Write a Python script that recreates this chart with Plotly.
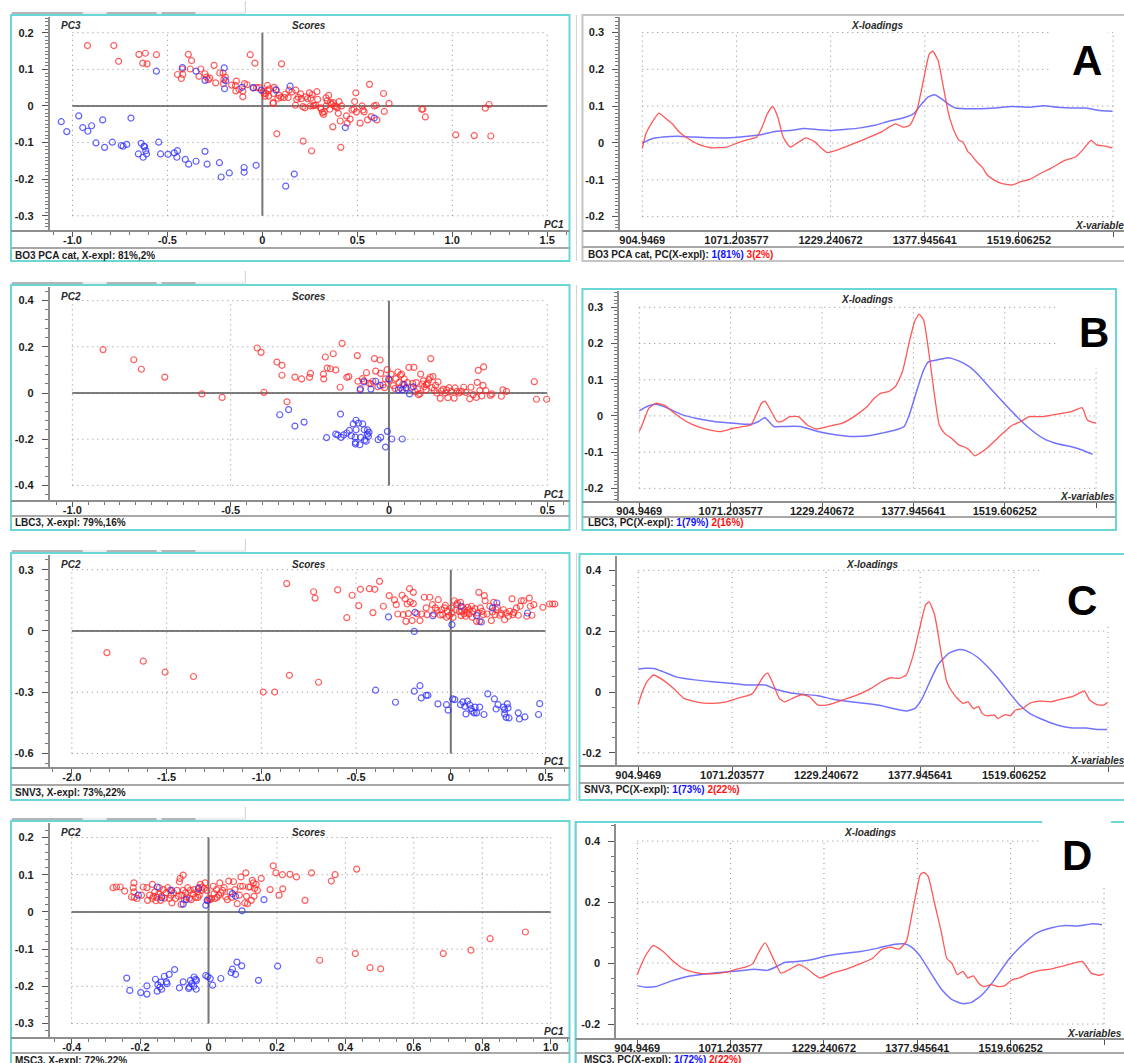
import plotly.graph_objects as go

W, H = 1124, 1063

# ====================== DATA ======================
# Scores (PC-x, PC-y) pairs: red = class 1, blue = class 2
A_RED = [(-0.921,0.165),(-0.782,0.165),(-0.757,0.122),(-0.650,0.141),(-0.616,0.144),(-0.630,0.117),(-0.607,0.115),(-0.558,0.140),(-0.447,0.086),(-0.419,0.086),
         (-0.427,0.075),(-0.421,0.101),(-0.390,0.141),(-0.373,0.124),(-0.380,0.101),(-0.334,0.081),(-0.324,0.101),(-0.302,0.088),(-0.294,0.079),(-0.285,0.072),
         (-0.277,0.076),(-0.254,0.111),(-0.246,0.063),(-0.224,0.090),(-0.207,0.090),(-0.203,0.072),(-0.195,0.079),(-0.205,0.061),(-0.162,0.057),(-0.142,0.056),
         (-0.137,0.068),(-0.140,0.041),(-0.123,0.045),(-0.103,0.040),(-0.103,0.025),(-0.094,0.061),(-0.080,0.058),(-0.064,0.140),(-0.039,0.117),(-0.049,0.049),
         (-0.031,0.050),(-0.016,0.050),(0.004,0.040),(0.018,0.034),(0.014,0.027),(0.029,0.043),(0.037,0.047),(0.027,0.056),(0.062,0.051),(0.072,0.045),
         (0.059,0.034),(0.057,0.009),(0.057,0.007),(0.088,0.029),(0.101,0.115),(0.098,0.023),(0.115,0.023),(0.121,0.032),(0.136,0.023),(0.140,0.043),
         (0.076,-0.076),(0.176,0.043),(0.181,0.018),(0.189,0.024),(0.174,0.002),(0.201,0.033),(0.205,0.020),(0.213,-0.002),(0.224,-0.005),(0.228,0.025),
         (0.238,0.020),(0.248,0.036),(0.252,0.000),(0.255,0.021),(0.263,0.031),(0.267,0.000),(0.281,0.002),(0.273,0.002),(0.287,0.039),(0.291,0.018),
         (0.306,-0.005),(0.316,-0.018),(0.322,-0.023),(0.326,-0.016),(0.335,0.000),(0.335,0.022),(0.341,0.014),(0.349,0.029),(0.355,-0.009),(0.359,0.009),
         (0.365,0.005),(0.374,0.009),(0.371,-0.057),(0.388,-0.002),(0.394,-0.005),(0.400,-0.020),(0.404,0.012),(0.410,-0.041),(0.413,-0.113),(0.417,0.000),
         (0.443,-0.027),(0.447,-0.047),(0.462,-0.036),(0.472,-0.011),(0.482,-0.009),(0.486,0.012),(0.492,0.036),(0.495,-0.016),(0.515,-0.047),(0.525,0.000),
         (0.530,-0.011),(0.536,-0.016),(0.554,-0.038),(0.564,0.059),(0.573,-0.029),(0.589,0.000),(0.599,0.002),(0.603,-0.038),(0.638,0.034),(0.642,-0.015),
         (0.667,0.007),(0.839,-0.009),(0.845,-0.009),(0.858,-0.030),(1.018,-0.079),(1.116,-0.081),(1.174,-0.006),(1.194,0.004),(1.203,-0.082),(0.215,-0.096),
         (0.259,-0.123),(0.010,0.034),(0.033,0.027),(0.082,0.021),(0.156,0.038),(0.310,-0.009),(0.380,0.000)]
A_BLUE = [(-1.059,-0.043),(-1.030,-0.070),(-0.967,-0.027),(-0.946,-0.059),(-0.919,-0.069),(-0.899,-0.054),(-0.876,-0.101),(-0.841,-0.038),(-0.831,-0.113),(-0.790,-0.099),
          (-0.743,-0.108),(-0.733,-0.110),(-0.714,-0.105),(-0.692,-0.033),(-0.653,-0.131),(-0.638,-0.102),(-0.628,-0.140),(-0.620,-0.111),(-0.614,-0.122),(-0.610,-0.131),
          (-0.624,-0.110),(-0.558,0.095),(-0.546,-0.099),(-0.536,-0.131),(-0.497,-0.132),(-0.464,-0.128),(-0.450,-0.140),(-0.447,-0.122),(-0.406,-0.146),(-0.388,-0.159),
          (-0.421,0.105),(-0.349,-0.151),(-0.349,0.095),(-0.302,0.070),(-0.302,-0.124),(-0.291,-0.159),(-0.226,-0.155),(-0.217,-0.194),(-0.201,0.104),(-0.199,0.047),
          (-0.193,0.069),(-0.174,-0.183),(-0.107,0.051),(-0.096,-0.168),(-0.096,-0.181),(-0.047,0.050),(-0.033,-0.162),(-0.006,0.043),(0.072,0.043),(0.146,0.054),
          (0.123,-0.219),(0.168,-0.186),(0.437,-0.059),(0.589,-0.033)]

B_RED = [(-0.903,0.188),(-0.806,0.144),(-0.782,0.103),(-0.708,0.069),(-0.591,-0.004),(-0.527,-0.019),(-0.416,0.195),(-0.404,0.176),(-0.395,0.003),(-0.354,0.134),
         (-0.338,0.120),(-0.338,0.077),(-0.322,-0.038),(-0.297,0.069),(-0.276,0.061),(-0.251,0.068),(-0.248,0.085),(-0.207,0.082),(-0.206,0.061),(-0.201,0.156),
         (-0.195,0.108),(-0.185,0.105),(-0.176,0.170),(-0.168,0.100),(-0.154,0.025),(-0.148,0.215),(-0.133,0.068),(-0.127,0.071),(-0.100,0.162),(-0.098,0.051),
         (-0.090,0.019),(-0.084,0.062),(-0.079,0.053),(-0.071,0.088),(-0.063,0.042),(-0.057,0.040),(-0.051,0.051),(-0.046,0.149),(-0.042,0.095),(-0.035,0.027),
         (-0.028,0.143),(-0.026,0.085),(-0.019,0.035),(-0.014,0.023),(-0.011,0.061),(-0.006,0.101),(0.002,0.056),(0.007,0.082),(0.014,0.032),(0.019,0.020),
         (0.022,0.062),(0.028,0.091),(0.032,0.046),(0.036,0.022),(0.040,0.082),(0.044,0.039),(0.048,0.061),(0.054,0.022),(0.058,0.045),(0.063,0.111),
         (0.069,0.025),(0.075,0.042),(0.079,0.111),(0.083,0.006),(0.086,0.045),(0.090,0.017),(0.093,-0.007),(0.098,-0.003),(0.100,0.082),(0.106,0.039),
         (0.109,0.053),(0.112,0.027),(0.117,0.014),(0.121,0.042),(0.126,0.058),(0.130,0.068),(0.132,0.149),(0.136,0.023),(0.139,0.071),(0.143,0.013),
         (0.147,0.033),(0.151,0.000),(0.155,0.048),(0.162,-0.023),(0.166,0.009),(0.171,0.017),(0.178,0.000),(0.186,-0.020),(0.190,0.023),(0.197,0.007),
         (0.206,-0.022),(0.209,0.022),(0.215,0.007),(0.221,0.000),(0.229,0.007),(0.236,0.025),(0.243,0.003),(0.255,-0.025),(0.259,0.025),(0.266,-0.007),
         (0.276,-0.019),(0.279,0.046),(0.282,0.098),(0.287,0.010),(0.293,-0.013),(0.297,0.033),(0.299,0.113),(0.306,0.010),(0.320,-0.010),(0.325,-0.004),
         (0.355,-0.014),(0.360,0.014),(0.371,0.007),(0.459,0.049),(0.466,-0.027),(0.498,-0.027),(0.036,0.077),(0.118,0.036),(0.182,0.014)]
B_BLUE = [(-0.345,-0.094),(-0.317,-0.072),(-0.297,-0.143),(-0.268,-0.126),(-0.197,-0.193),(-0.168,-0.178),(-0.162,-0.182),(-0.153,-0.091),(-0.151,-0.192),(-0.143,-0.181),
          (-0.133,-0.173),(-0.125,-0.162),(-0.119,-0.185),(-0.113,-0.134),(-0.107,-0.191),(-0.106,-0.214),(-0.106,-0.221),(-0.104,-0.118),(-0.104,-0.159),(-0.096,-0.130),
          (-0.092,-0.224),(-0.091,0.014),(-0.089,-0.192),(-0.083,-0.134),(-0.079,0.048),(-0.078,-0.159),(-0.077,-0.204),(-0.072,-0.209),(-0.068,-0.160),(-0.068,-0.178),
          (-0.065,-0.188),(-0.063,-0.170),(-0.057,0.017),(-0.042,0.051),(-0.034,-0.202),(-0.028,0.033),(-0.026,-0.192),(-0.011,-0.234),(-0.005,-0.166),(-0.001,0.061),
          (0.009,-0.199),(0.030,0.014),(0.042,0.014),(0.048,0.036),(0.054,0.022),(0.065,-0.004),(0.042,-0.199),(0.077,0.027)]

C_RED = [(-1.815,-0.106),(-1.623,-0.148),(-1.508,-0.202),(-1.358,-0.223),(-0.990,-0.299),(-0.930,-0.299),(-0.852,-0.217),(-0.698,-0.251),(-0.866,0.232),(-0.724,0.192),
         (-0.716,0.161),(-0.597,0.201),(-0.549,0.065),(-0.521,0.175),(-0.486,0.124),(-0.477,0.204),(-0.430,0.207),(-0.411,0.090),(-0.401,0.204),(-0.376,0.243),
         (-0.356,0.121),(-0.325,0.173),(-0.297,0.152),(-0.288,0.129),(-0.280,0.083),(-0.257,0.175),(-0.251,0.080),(-0.241,0.158),(-0.237,0.047),(-0.230,0.132),
         (-0.224,0.085),(-0.218,0.207),(-0.214,0.142),(-0.204,0.051),(-0.198,0.189),(-0.198,0.134),(-0.179,0.085),(-0.163,0.051),(-0.154,0.083),(-0.140,0.165),
         (-0.130,0.113),(-0.126,0.080),(-0.111,0.165),(-0.097,0.129),(-0.089,0.083),(-0.082,0.113),(-0.072,0.101),(-0.066,0.153),(-0.056,0.078),(-0.049,0.104),
         (-0.043,0.080),(-0.029,0.126),(-0.023,0.067),(-0.018,0.096),(-0.008,0.075),(0.004,0.113),(0.012,0.067),(0.019,0.148),(0.025,0.104),(0.031,0.129),
         (0.035,0.137),(0.045,0.096),(0.051,0.140),(0.054,0.075),(0.058,0.096),(0.064,0.116),(0.070,0.083),(0.074,0.104),(0.078,0.072),(0.084,0.091),
         (0.089,0.116),(0.097,0.083),(0.109,0.121),(0.113,0.067),(0.117,0.096),(0.128,0.108),(0.136,0.047),(0.142,0.088),(0.148,0.189),(0.152,0.047),
         (0.156,0.113),(0.165,0.096),(0.171,0.080),(0.177,0.173),(0.181,0.148),(0.191,0.083),(0.206,0.121),(0.214,0.051),(0.220,0.093),(0.226,0.140),
         (0.233,0.080),(0.239,0.104),(0.245,0.116),(0.259,0.077),(0.268,0.085),(0.278,0.104),(0.284,0.055),(0.292,0.088),(0.304,0.072),(0.311,0.096),
         (0.323,0.157),(0.327,0.080),(0.333,0.091),(0.346,0.113),(0.356,0.077),(0.366,0.121),(0.372,0.148),(0.385,0.148),(0.401,0.072),(0.414,0.161),
         (0.420,0.121),(0.428,0.077),(0.438,0.129),(0.486,0.116),(0.521,0.132),(0.537,0.132),(0.549,0.132),(0.097,0.104),(0.006,0.088),(-0.033,0.113)]
C_BLUE = [(-0.329,0.069),(-0.193,-0.002),(-0.189,0.091),(-0.095,0.075),(0.006,0.031),(0.054,0.121),(0.136,0.075),(0.220,0.113),(0.243,0.137),(0.405,0.088),
          (0.161,0.044),(-0.397,-0.290),(-0.292,-0.349),(-0.193,-0.295),(-0.163,-0.268),(-0.156,-0.328),(-0.130,-0.315),(-0.121,-0.315),(-0.068,-0.357),(-0.023,-0.361),
          (-0.014,-0.388),(0.010,-0.333),(0.021,-0.336),(0.051,-0.361),(0.064,-0.347),(0.074,-0.369),(0.080,-0.406),(0.088,-0.344),(0.099,-0.361),(0.107,-0.380),
          (0.113,-0.393),(0.123,-0.401),(0.128,-0.373),(0.136,-0.401),(0.152,-0.373),(0.175,-0.409),(0.195,-0.308),(0.230,-0.333),(0.239,-0.382),(0.249,-0.361),
          (0.278,-0.373),(0.284,-0.385),(0.284,-0.406),(0.292,-0.423),(0.298,-0.357),(0.302,-0.377),(0.307,-0.426),(0.356,-0.401),(0.362,-0.431),(0.391,-0.421),
          (0.463,-0.409),(0.469,-0.356)]

D_RED = [(-0.279,0.065),(-0.269,0.067),(-0.258,0.067),(-0.245,0.056),(-0.225,0.040),(-0.220,0.065),(-0.218,0.078),(-0.218,0.054),(-0.217,0.039),(-0.209,0.036),
         (-0.196,0.045),(-0.191,0.067),(-0.180,0.065),(-0.178,0.031),(-0.172,0.045),(-0.164,0.074),(-0.164,0.036),(-0.161,0.042),(-0.157,0.054),(-0.154,0.030),
         (-0.151,0.039),(-0.146,0.048),(-0.144,0.065),(-0.140,0.031),(-0.137,0.042),(-0.132,0.060),(-0.128,0.037),(-0.124,0.051),(-0.119,0.065),(-0.115,0.036),
         (-0.112,0.058),(-0.110,0.045),(-0.107,0.024),(-0.102,0.051),(-0.096,0.036),(-0.092,0.058),(-0.088,0.042),(-0.085,0.081),(-0.083,0.090),(-0.080,0.020),
         (-0.078,0.045),(-0.074,0.099),(-0.074,0.058),(-0.070,0.033),(-0.067,0.051),(-0.064,0.040),(-0.061,0.065),(-0.056,0.036),(-0.053,0.058),(-0.051,0.033),
         (-0.045,0.049),(-0.042,0.060),(-0.038,0.039),(-0.032,0.054),(-0.031,0.039),(-0.029,0.065),(-0.027,0.045),(-0.024,0.074),(-0.020,0.058),(-0.018,0.067),
         (-0.013,0.063),(-0.010,0.078),(-0.005,0.058),(-0.002,0.030),(0.001,0.036),(0.005,0.033),(0.009,0.036),(0.014,0.069),(0.016,0.049),(0.019,0.036),
         (0.023,0.060),(0.025,0.039),(0.030,0.045),(0.033,0.078),(0.036,0.051),(0.041,0.058),(0.046,0.065),(0.050,0.040),(0.055,0.033),(0.059,0.083),
         (0.063,0.054),(0.068,0.039),(0.073,0.081),(0.077,0.060),(0.084,0.022),(0.090,0.045),(0.093,0.069),(0.095,0.094),(0.100,0.069),(0.106,0.024),
         (0.109,0.105),(0.111,0.042),(0.114,0.022),(0.117,0.067),(0.122,0.067),(0.125,0.031),(0.128,0.085),(0.131,0.078),(0.133,0.042),(0.135,0.063),
         (0.139,0.074),(0.143,0.058),(0.154,0.090),(0.180,0.060),(0.189,0.124),(0.197,0.105),(0.206,0.045),(0.216,0.100),(0.217,0.062),(0.238,0.101),
         (0.257,0.094),(0.282,0.031),(0.301,0.105),(0.359,0.083),(0.370,0.100),(0.433,0.115),(0.325,-0.130),(0.429,-0.112),(0.472,-0.150),(0.503,-0.153),
         (0.686,-0.112),(0.767,-0.103),(0.823,-0.072),(0.926,-0.054)]
D_BLUE = [(-0.205,0.045),(-0.150,0.067),(-0.108,0.058),(-0.137,0.038),(-0.074,0.021),(-0.065,0.033),(-0.029,0.063),(-0.008,0.018),(-0.004,0.031),(0.079,0.042),
          (0.070,0.049),(0.098,0.003),(0.162,0.033),(-0.239,-0.178),(-0.230,-0.211),(-0.198,-0.217),(-0.180,-0.199),(-0.180,-0.221),(-0.155,-0.181),(-0.150,-0.213),
          (-0.148,-0.196),(-0.142,-0.202),(-0.139,-0.189),(-0.137,-0.208),(-0.129,-0.173),(-0.123,-0.188),(-0.121,-0.193),(-0.115,-0.168),(-0.099,-0.155),(-0.085,-0.204),
          (-0.074,-0.188),(-0.058,-0.206),(-0.056,-0.202),(-0.053,-0.184),(-0.049,-0.193),(-0.043,-0.200),(-0.042,-0.175),(-0.038,-0.181),(-0.036,-0.208),(-0.035,-0.184),
          (-0.008,-0.171),(-0.002,-0.174),(0.005,-0.179),(0.012,-0.197),(0.036,-0.179),(0.066,-0.163),(0.070,-0.154),(0.079,-0.168),(0.083,-0.135),(0.097,-0.145),
          (0.146,-0.184),(0.202,-0.146)]

# Loadings: (variable index, loading)
LA_RED = [(0,-0.015),(1.9,0.025),(4.7,0.052),(8.8,0.081),(12.2,0.068),(15.9,0.052),(19.6,0.030),(24.3,0.012),(29.9,-0.004),(36.5,-0.013),
          (44.9,-0.011),(50.5,0.000),(56.1,0.009),(60.8,0.016),(63.6,0.043),(66.4,0.079),(69.2,0.099),(72.0,0.070),(74.8,0.016),(78.5,-0.011),
          (82.3,0.000),(86.9,0.014),(91.6,0.003),(94.4,-0.011),(98.2,-0.026),(104.7,-0.017),(112.2,-0.002),(119.7,0.014),(127.1,0.030),(130.9,0.043),
          (134.6,0.052),(138.4,0.043),(142.1,0.048),(145.8,0.088),(149.6,0.178),(152.4,0.241),(154.3,0.249),(157.1,0.223),(159.9,0.151),(162.7,0.079),
          (165.5,0.034),(168.3,0.007),(170.2,0.003),(173.0,-0.024),(174.8,-0.033),(177.6,-0.051),(180.4,-0.065),(183.2,-0.087),(187.0,-0.101),(190.7,-0.110),
          (196.3,-0.114),(201.0,-0.105),(205.7,-0.099),(211.3,-0.083),(216.9,-0.069),(224.4,-0.047),(230.0,-0.038),(233.7,-0.020),(238.4,0.007),(241.2,-0.005),
          (244.9,-0.008),(249.6,-0.013)]
LA_BLUE = [(0,0.000),(5.6,0.012),(11.2,0.016),(18.7,0.018),(28.0,0.016),(37.4,0.014),(46.7,0.014),(56.1,0.018),(63.6,0.023),(71.1,0.032),
           (78.5,0.034),(86.0,0.039),(93.5,0.036),(101.0,0.034),(108.5,0.037),(115.9,0.041),(123.4,0.048),(130.9,0.059),(138.4,0.068),(144.0,0.079),
           (147.7,0.102),(151.5,0.124),(155.2,0.131),(158.9,0.120),(162.7,0.105),(166.4,0.095),(172.0,0.093),(179.5,0.093),(187.0,0.095),(196.3,0.099),
           (205.7,0.097),(213.2,0.101),(220.6,0.097),(228.1,0.095),(235.6,0.095),(243.1,0.088),(249.6,0.086)]
LB_RED = [(0,-0.043),(2.3,-0.016),(5.2,0.021),(9.1,0.035),(13.9,0.029),(17.7,0.014),(22.6,-0.005),(28.3,-0.022),(36.0,-0.036),(44.7,-0.043),
          (51.5,-0.034),(57.2,-0.029),(61.1,-0.025),(64.0,0.003),(66.9,0.035),(68.8,0.041),(71.7,0.017),(75.6,-0.016),(78.5,-0.014),(82.3,-0.002),
          (87.1,-0.002),(91.9,-0.025),(96.8,-0.036),(103.5,-0.029),(111.2,-0.020),(118.9,0.003),(124.7,0.026),(128.6,0.049),(132.4,0.063),(136.3,0.067),
          (140.1,0.081),(144.0,0.122),(147.8,0.205),(150.7,0.261),(153.2,0.281),(155.6,0.265),(158.4,0.178),(161.3,0.067),(164.2,-0.025),(167.1,-0.048),
          (171.0,-0.062),(174.8,-0.080),(177.7,-0.085),(180.6,-0.094),(183.5,-0.110),(186.4,-0.103),(190.2,-0.089),(194.1,-0.071),(198.9,-0.048),(203.7,-0.027),
          (208.6,-0.016),(213.4,-0.002),(221.1,-0.002),(228.8,0.005),(236.5,0.012),(242.3,0.023),(245.2,-0.011),(248.1,-0.018),(250.0,-0.020)]
LB_BLUE = [(0,0.014),(4.2,0.026),(9.1,0.032),(14.8,0.023),(22.6,0.005),(32.2,-0.008),(41.8,-0.016),(51.5,-0.020),(61.1,-0.023),(65.0,-0.016),
           (68.8,-0.005),(73.6,-0.029),(78.5,-0.029),(88.1,-0.029),(97.7,-0.043),(107.4,-0.052),(117.0,-0.057),(126.6,-0.054),(132.4,-0.048),(140.1,-0.039),
           (145.0,-0.029),(147.8,0.003),(151.7,0.067),(155.6,0.127),(158.4,0.150),(163.3,0.155),(169.0,0.161),(174.8,0.152),(180.6,0.136),(186.4,0.109),
           (192.2,0.076),(198.0,0.044),(205.7,0.003),(213.4,-0.034),(221.1,-0.062),(228.8,-0.077),(236.5,-0.085),(242.3,-0.094),(248.1,-0.106)]
LC_RED = [(0,-0.041),(1.9,-0.004),(4.7,0.034),(8.1,0.056),(13.1,0.040),(18.8,0.012),(24.4,-0.021),(31.9,-0.034),(39.4,-0.037),(46.9,-0.032),
          (52.6,-0.021),(58.2,-0.012),(61.0,-0.004),(63.8,0.023),(66.6,0.051),(68.9,0.062),(71.3,0.034),(75.1,-0.021),(77.9,-0.032),(82.6,-0.019),
          (87.3,-0.008),(91.0,-0.015),(95.7,-0.043),(101.4,-0.041),(108.9,-0.026),(116.4,-0.010),(123.9,0.012),(129.5,0.034),(134.2,0.047),(138.9,0.045),
          (142.6,0.056),(146.4,0.122),(150.2,0.221),(153.0,0.287),(154.8,0.296),(157.7,0.254),(161.4,0.122),(164.2,0.034),(167.0,0.001),(169.9,-0.021),
          (172.7,-0.037),(175.5,-0.032),(178.3,-0.054),(181.1,-0.048),(183.0,-0.070),(185.8,-0.078),(189.6,-0.076),(191.4,-0.087),(195.2,-0.074),(198.0,-0.078),
          (200.8,-0.059),(204.6,-0.054),(208.3,-0.037),(214.0,-0.030),(219.6,-0.032),(225.2,-0.023),(230.9,-0.015),(234.6,-0.004),(237.4,0.004),(240.2,-0.026),
          (244.0,-0.041),(247.7,-0.043),(249.6,-0.034)]
LC_BLUE = [(0,0.075),(3.8,0.078),(8.4,0.077),(13.1,0.067),(20.6,0.049),(30.0,0.040),(39.4,0.034),(48.8,0.029),(58.2,0.023),(67.6,0.023),
           (73.2,0.009),(80.7,-0.002),(88.2,-0.008),(95.7,-0.012),(103.2,-0.023),(110.7,-0.030),(120.1,-0.037),(129.5,-0.045),(137.0,-0.056),(142.6,-0.062),
           (147.3,-0.054),(151.1,-0.021),(154.8,0.029),(159.5,0.089),(165.2,0.127),(170.8,0.140),(174.5,0.136),(180.2,0.116),(185.8,0.084),(191.4,0.045),
           (197.1,0.001),(202.7,-0.041),(208.3,-0.070),(215.8,-0.092),(223.3,-0.109),(230.9,-0.118),(238.4,-0.118),(244.0,-0.123),(249.6,-0.123)]
LD_RED = [(0,-0.038),(2.5,0.000),(5.3,0.033),(8.5,0.057),(13.8,0.038),(19.4,0.005),(25.1,-0.020),(32.7,-0.033),(40.2,-0.035),(47.8,-0.030),
          (53.4,-0.020),(59.1,-0.011),(61.9,-0.002),(64.8,0.033),(68.5,0.066),(72.3,0.022),(77.0,-0.033),(81.8,-0.020),(86.5,-0.005),(90.3,-0.016),
          (95.0,-0.038),(97.8,-0.049),(104.4,-0.033),(112.0,-0.020),(119.5,-0.002),(126.1,0.016),(130.9,0.044),(135.6,0.052),(140.3,0.046),(144.1,0.071),
          (146.9,0.153),(149.7,0.240),(151.6,0.290),(153.5,0.297),(155.8,0.284),(159.2,0.197),(163.0,0.098),(165.8,0.016),(168.6,-0.002),(171.5,-0.038),
          (174.3,-0.027),(177.1,-0.049),(180.0,-0.042),(182.8,-0.066),(185.6,-0.077),(189.5,-0.071),(193.2,-0.077),(196.9,-0.074),(200.7,-0.055),(204.5,-0.049),
          (210.2,-0.033),(215.8,-0.024),(221.5,-0.020),(227.2,-0.011),(232.8,-0.002),(238.5,0.005),(243.2,-0.033),(247.0,-0.040),(249.8,-0.036)]
LD_BLUE = [(0,-0.074),(4.3,-0.079),(10.0,-0.077),(17.6,-0.060),(27.0,-0.044),(36.4,-0.036),(45.9,-0.030),(55.3,-0.025),(62.9,-0.020),(69.5,-0.024),
           (74.2,-0.013),(78.9,0.002),(85.5,0.005),(93.1,0.011),(100.6,0.022),(110.1,0.031),(119.5,0.038),(129.0,0.049),(136.5,0.060),(143.1,0.063),
           (146.9,0.052),(151.6,0.022),(157.3,-0.033),(163.0,-0.087),(168.6,-0.120),(174.3,-0.133),(179.0,-0.129),(184.7,-0.104),(191.3,-0.055),(198.8,0.011),
           (206.4,0.060),(213.9,0.098),(221.5,0.115),(229.0,0.123),(236.6,0.122),(244.1,0.129),(248.9,0.126)]

# Tick values / labels
SA_XT = [-1.0, -0.5, 0, 0.5, 1.0, 1.5]
SA_YT = [-0.3, -0.2, -0.1, 0, 0.1, 0.2]
SB_XT = [-1.0, -0.5, 0, 0.5]
SB_YT = [-0.4, -0.2, 0, 0.2, 0.4]
SC_XT = [-2.0, -1.5, -1.0, -0.5, 0, 0.5]
SC_YT = [-0.6, -0.3, 0, 0.3]
SD_XT = [-0.4, -0.2, 0, 0.2, 0.4, 0.6, 0.8, 1.0]
SD_YT = [-0.3, -0.2, -0.1, 0, 0.1, 0.2]
VAR_TICKS = [0, 50, 100, 150, 200, 250]
VAR_LABELS = ['904.9469', '1071.203577', '1229.240672', '1377.945641', '1519.606252', '']
LA_YT = [-0.2, -0.1, 0, 0.1, 0.2, 0.3]
LB_YT = [-0.2, -0.1, 0, 0.1, 0.2, 0.3]
LC_YT = [-0.2, 0, 0.2, 0.4]
LD_YT = [-0.2, 0, 0.2, 0.4]

SCORE_FOOTERS = ['BO3 PCA cat, X-expl: 81%,2%', 'LBC3, X-expl: 79%,16%', 'SNV3, X-expl: 73%,22%', 'MSC3, X-expl: 72%,22%']
SCORE_YLABELS = ['PC3', 'PC2', 'PC2', 'PC2']
LOAD_FOOTERS = [('BO3 PCA cat', '1(81%)', '3(2%)'), ('LBC3', '1(79%)', '2(16%)'),
                ('SNV3', '1(73%)', '2(22%)'), ('MSC3', '1(72%)', '2(22%)')]
LETTERS = ['A', 'B', 'C', 'D']

# ====================== STYLE ======================
RED_PT = 'rgba(255,40,40,0.75)'
BLUE_PT = 'rgba(45,45,255,0.75)'
RED_LN = 'rgba(255,70,70,0.9)'
BLUE_LN = 'rgba(90,90,255,0.85)'
CYAN = '#6ad6d6'
AXIS_GREY = '#8e8e8e'
GRID = '#8c8c8c'
FONT = 'Arial, Liberation Sans, sans-serif'
TICKFONT = dict(family=FONT, size=11, color='#1c1c1c', weight='bold')


def fmt(v):
    return '0' if abs(v) < 1e-9 else f'{v:.1f}'


def px(x):
    return x / W


def py(y):
    return 1 - y / H


SCORE_GEOM = [
    dict(frame=(8, 15, 568, 261), plot=(47, 17, 567, 231), sep=248, foot=255,
         xr=(-1.119, 1.612), yr=(-0.3415, 0.243), xminor=0.1, yminor=0.01),
    dict(frame=(8, 285, 568, 530), plot=(47, 287, 567, 501), sep=516, foot=523,
         xr=(-1.071, 0.567), yr=(-0.4675, 0.459), xminor=0.05, yminor=0.04),
    dict(frame=(8, 553, 568, 800), plot=(47, 555, 567, 768), sep=785, foot=792,
         xr=(-2.116, 0.621), yr=(-0.671, 0.372), xminor=0.1, yminor=0.05),
    dict(frame=(8, 821, 568, 1080), plot=(47, 823, 567, 1038), sep=1053, foot=1060,
         xr=(-0.4636, 1.052), yr=(-0.339, 0.239), xminor=0.05, yminor=0.02),
]
LOAD_GEOM = [
    dict(frame=(581, 15, 1140, 261), plot=(619, 17, 1124, 231), sep=247, foot=254, fx=585,
         xr=(-11.65, 255.8), yr=(-0.239, 0.342), yminor=0.01, tx=877, vx=1073,
         lxy=(1087, 60), box=(1050, 22, 1108, 88), fcol='#c4c4c4'),
    dict(frame=(581, 289, 1116, 530), plot=(618, 291, 1116, 502), sep=517, foot=523, fx=585,
         xr=(-10.9, 260.9), yr=(-0.2376, 0.345), yminor=0.01, tx=867, vx=1058,
         lxy=(1094, 332), box=(1058, 296, 1113, 368), fcol=CYAN),
    dict(frame=(578, 554, 1140, 800), plot=(616, 556, 1124, 766), sep=783, foot=789, fx=581,
         xr=(-11.1, 258.5), yr=(-0.243, 0.447), yminor=0.05, tx=872, vx=1068,
         lxy=(1082, 600), box=(1043, 558, 1124, 626), fcol=CYAN),
    dict(frame=(574, 822, 1140, 1080), plot=(615, 824, 1124, 1039), sep=1053, foot=1059, fx=581,
         xr=(-11.2, 260.7), yr=(-0.249, 0.456), yminor=0.05, tx=870, vx=1065,
         lxy=(1077, 855), box=(1042, 818, 1111, 886), fcol=CYAN),
]

SCORE_DATA = [(A_RED, A_BLUE, SA_XT, SA_YT), (B_RED, B_BLUE, SB_XT, SB_YT),
              (C_RED, C_BLUE, SC_XT, SC_YT), (D_RED, D_BLUE, SD_XT, SD_YT)]
LOAD_DATA = [(LA_RED, LA_BLUE, LA_YT), (LB_RED, LB_BLUE, LB_YT),
             (LC_RED, LC_BLUE, LC_YT), (LD_RED, LD_BLUE, LD_YT)]

fig = go.Figure()
layout = {}
shapes = []
annos = []


def names(i):
    s = '' if i == 1 else str(i)
    return 'xaxis' + s, 'yaxis' + s, 'x' + s, 'y' + s


def axis_pair(i, g, xt, xl, yt, xminor, yminor):
    L, T, R, B = g['plot']
    xa, ya, xr, yr = names(i)
    layout[xa] = dict(domain=[px(L), min(px(R), 1)], range=list(g['xr']), anchor=yr,
                      tickmode='array', tickvals=xt, ticktext=xl, ticks='outside', ticklen=5,
                      tickcolor='#555', tickwidth=1, showgrid=False, zeroline=False, showline=False,
                      tickfont=TICKFONT, ticklabelstandoff=-6, fixedrange=True,
                      minor=dict(ticks='outside', ticklen=3, tickcolor='#777', dtick=xminor, tick0=0,
                                 showgrid=False) if xminor else dict(ticks=''))
    layout[ya] = dict(domain=[py(B), py(T)], range=list(g['yr']), anchor=xr,
                      tickmode='array', tickvals=yt, ticktext=[fmt(v) for v in yt], ticks='outside',
                      ticklen=6, tickcolor='#555', tickwidth=1, showgrid=False, zeroline=False,
                      showline=True, linecolor=AXIS_GREY, linewidth=2,
                      tickfont=TICKFONT, ticklabelstandoff=6, fixedrange=True,
                      minor=dict(ticks='outside', ticklen=3, tickcolor='#777', dtick=yminor, tick0=0,
                                 showgrid=False))
    return xr, yr


def grid(xr, yr, xt, yt):
    dot = dict(color=GRID, width=1, dash='1px,4px')
    for v in xt:
        shapes.append(dict(type='line', xref=xr, yref=yr, x0=v, x1=v, y0=min(yt), y1=max(yt),
                           line=dot, layer='below'))
    for v in yt:
        shapes.append(dict(type='line', xref=xr, yref=yr, x0=min(xt), x1=max(xt), y0=v, y1=v,
                           line=dot, layer='below'))


def frame(g, col):
    x0, y0, x1, y1 = g['frame']
    L, T, R, B = g['plot']
    shapes.append(dict(type='rect', xref='paper', yref='paper', x0=px(x0), x1=px(x1),
                       y0=py(y1), y1=py(y0), line=dict(color=col, width=2)))
    shapes.append(dict(type='line', xref='paper', yref='paper', x0=px(x0), x1=px(x1),
                       y0=py(B), y1=py(B), line=dict(color=AXIS_GREY, width=2)))
    shapes.append(dict(type='line', xref='paper', yref='paper', x0=px(x0), x1=px(x1),
                       y0=py(g['sep']), y1=py(g['sep']), line=dict(color='#a8a8a8', width=2)))


def text(x, y, s, size=10, anchor='left', color='#2a2a2a', yanchor='middle', weight='normal'):
    annos.append(dict(xref='paper', yref='paper', x=px(x), y=py(y), text=s, showarrow=False,
                      xanchor=anchor, yanchor=yanchor,
                      font=dict(family=FONT, size=size, color=color, weight=weight)))


i = 0
# ---- score panels ----
for k in range(4):
    i += 1
    red, blue, xt, yt = SCORE_DATA[k]
    g = SCORE_GEOM[k]
    xr, yr = axis_pair(i, g, xt, [fmt(v) for v in xt], yt, g['xminor'], g['yminor'])
    grid(xr, yr, xt, yt)
    shapes.append(dict(type='line', xref=xr, yref=yr, x0=min(xt), x1=max(xt), y0=0, y1=0,
                       line=dict(color='#555', width=1.5), layer='below'))
    shapes.append(dict(type='line', xref=xr, yref=yr, x0=0, x1=0, y0=min(yt), y1=max(yt),
                       line=dict(color='#777', width=2), layer='below'))
    frame(g, CYAN)
    fig.add_trace(go.Scatter(x=[p[0] for p in red], y=[p[1] for p in red], mode='markers',
                             marker=dict(symbol='circle-open', size=6, color=RED_PT, line=dict(width=1.2)),
                             xaxis=xr, yaxis=yr, showlegend=False, hoverinfo='skip'))
    fig.add_trace(go.Scatter(x=[p[0] for p in blue], y=[p[1] for p in blue], mode='markers',
                             marker=dict(symbol='circle-open', size=6, color=BLUE_PT, line=dict(width=1.2)),
                             xaxis=xr, yaxis=yr, showlegend=False, hoverinfo='skip'))
    L, T, R, B = g['plot']
    text(56, T + 9, '<b><i>' + SCORE_YLABELS[k] + '</i></b>', size=10)
    text(307, T + 9, '<b><i>Scores</i></b>', size=10, anchor='center')
    text(565, B - 7, '<b><i>PC1</i></b>', size=10, anchor='right')
    text(10, g['foot'], SCORE_FOOTERS[k], size=10, color='#1c1c1c', weight='bold')
    # tab strip above panel
    ty = g['frame'][1] - 2
    shapes.append(dict(type='line', xref='paper', yref='paper', x0=px(8), x1=px(243), y0=py(ty), y1=py(ty),
                       line=dict(color='#dcdcdc', width=1)))
    for a, b in [(9, 80), (104, 154), (159, 193)]:
        shapes.append(dict(type='line', xref='paper', yref='paper', x0=px(a), x1=px(b), y0=py(ty), y1=py(ty),
                           line=dict(color='#b5b5b5', width=2)))
    shapes.append(dict(type='line', xref='paper', yref='paper', x0=px(243), x1=px(243), y0=py(ty - 12), y1=py(ty),
                       line=dict(color='#cfcfcf', width=1)))
    shapes.append(dict(type='line', xref='paper', yref='paper', x0=px(575), x1=px(575),
                       y0=py(g['frame'][3]), y1=py(g['frame'][1]), line=dict(color='#d0d0d0', width=1)))

# ---- loading panels ----
for k in range(4):
    i += 1
    red, blue, yt = LOAD_DATA[k]
    g = LOAD_GEOM[k]
    xr, yr = axis_pair(i, g, VAR_TICKS, VAR_LABELS, yt, None, g['yminor'])
    grid(xr, yr, VAR_TICKS, yt)
    frame(g, g['fcol'])
    fig.add_trace(go.Scatter(x=[p[0] for p in blue], y=[p[1] for p in blue], mode='lines',
                             line=dict(color=BLUE_LN, width=1.5, shape='spline', smoothing=0.5),
                             xaxis=xr, yaxis=yr, showlegend=False, hoverinfo='skip'))
    fig.add_trace(go.Scatter(x=[p[0] for p in red], y=[p[1] for p in red], mode='lines',
                             line=dict(color=RED_LN, width=1.3, shape='spline', smoothing=0.5),
                             xaxis=xr, yaxis=yr, showlegend=False, hoverinfo='skip'))
    L, T, R, B = g['plot']
    text(g['tx'], T + 8, '<b><i>X-loadings</i></b>', size=10, anchor='center')
    text(g['vx'], B - 6, '<b><i>X-variables</i></b>', size=10, anchor='left')
    name, p1, p2 = LOAD_FOOTERS[k]
    text(g['fx'], g['foot'], name + ', PC(X-expl): <span style="color:#1010ff">' + p1 +
         '</span> <span style="color:#ff1010">' + p2 + '</span>', size=10, color='#1c1c1c', weight='bold')
    bx0, by0, bx1, by1 = g['box']
    shapes.append(dict(type='rect', xref='paper', yref='paper', x0=px(bx0), x1=px(bx1), y0=py(by1), y1=py(by0),
                       line=dict(width=0), fillcolor='white'))
    text(g['lxy'][0], g['lxy'][1], '<b>' + LETTERS[k] + '</b>', size=42, anchor='center', color='black')

fig.update_layout(width=W, height=H, margin=dict(l=0, r=0, t=0, b=0), autosize=False,
                  paper_bgcolor='white', plot_bgcolor='rgba(0,0,0,0)',
                  shapes=shapes, annotations=annos, showlegend=False, **layout)
fig.write_html('out.html')
